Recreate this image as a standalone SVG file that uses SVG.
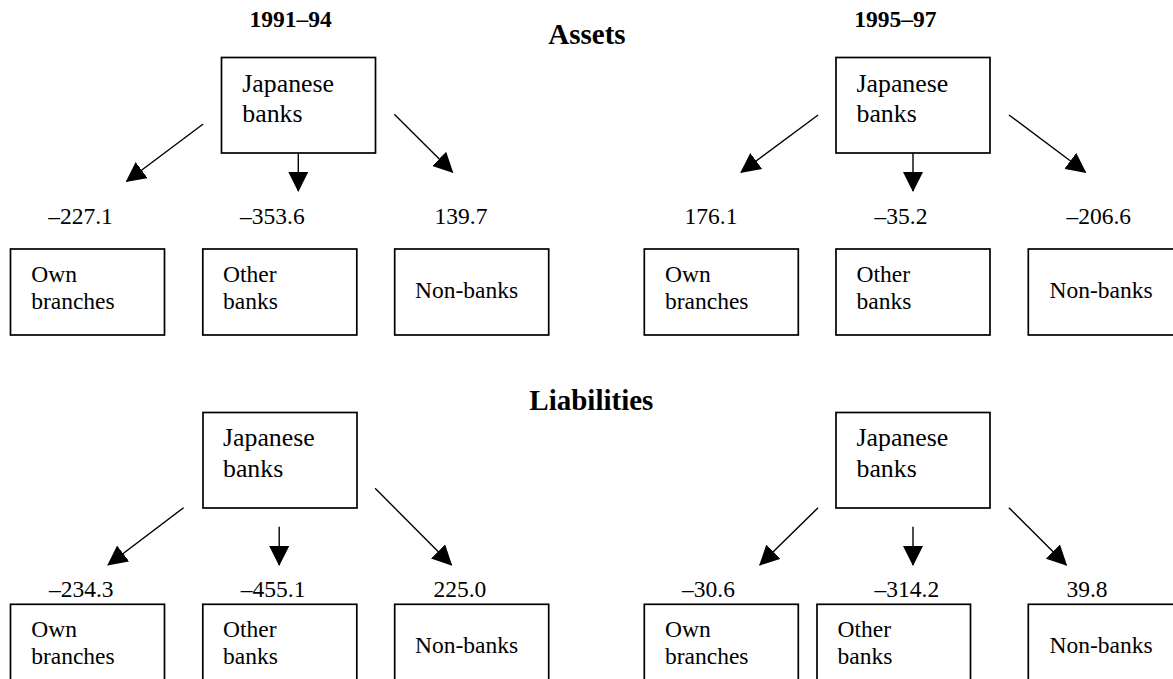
<svg xmlns="http://www.w3.org/2000/svg" width="1173" height="679" viewBox="0 0 1173 679">
<style>
text{font-family:"Liberation Serif",Tinos,"Times New Roman",Times,"DejaVu Serif",serif;font-size:23.5px;fill:#000}
.j{font-size:25.8px}
.h{font-weight:bold;font-size:23.5px}
.t{font-weight:bold;font-size:29px}
rect{fill:#fff;stroke:#000;stroke-width:1.7}
.c line{stroke:#000;stroke-width:1.4;marker-end:url(#ah)}
</style>
<defs>
<marker id="ah" markerUnits="userSpaceOnUse" markerWidth="20" markerHeight="20" refX="19" refY="10" orient="auto" viewBox="0 0 20 20">
<path d="M0,0 L20,10 L0,20 z" fill="#000"/>
</marker>
</defs>
<rect x="0" y="0" width="1173" height="679" style="stroke:none;fill:#fff"/>

<g id="headers">
<text class="h" x="249.4" y="26.7">1991–94</text>
<text class="h" x="854.3" y="26.7">1995–97</text>
<text class="t" x="548.3" y="44.3">Assets</text>
<text class="t" x="529.3" y="410">Liabilities</text>
</g>

<!-- Assets 1991-94 -->
<g id="a1-japanese"><rect x="221.5" y="57.5" width="154" height="95.5"/><text class="j" x="242.3" y="91.5">Japanese</text><text class="j" x="242.3" y="121.7">banks</text></g>
<g id="a1-own"><rect x="10.5" y="249" width="154" height="86"/><text x="31.2" y="281.7">Own</text><text x="31.2" y="309.3">branches</text></g>
<g id="a1-other"><rect x="202.8" y="249" width="154" height="86"/><text x="223" y="281.7">Other</text><text x="223" y="309.3">banks</text></g>
<g id="a1-non"><rect x="394.7" y="249" width="154" height="86"/><text x="415" y="297.7">Non-banks</text></g>

<!-- Assets 1995-97 -->
<g id="a2-japanese"><rect x="836" y="57.5" width="154" height="95.5"/><text class="j" x="856.5" y="91.5">Japanese</text><text class="j" x="856.5" y="121.7">banks</text></g>
<g id="a2-own"><rect x="644.3" y="249" width="154" height="86"/><text x="665" y="281.7">Own</text><text x="665" y="309.3">branches</text></g>
<g id="a2-other"><rect x="836" y="249" width="154" height="86"/><text x="856.5" y="281.7">Other</text><text x="856.5" y="309.3">banks</text></g>
<g id="a2-non"><rect x="1028.3" y="249" width="154" height="86"/><text x="1049.5" y="297.7">Non-banks</text></g>

<!-- Liabilities 1991-94 -->
<g id="l1-japanese"><rect x="203" y="412.5" width="154" height="95.5"/><text class="j" x="223" y="446.3">Japanese</text><text class="j" x="223" y="476.5">banks</text></g>
<g id="l1-own"><rect x="10.5" y="604.3" width="154" height="86"/><text x="31.2" y="636.7">Own</text><text x="31.2" y="664.3">branches</text></g>
<g id="l1-other"><rect x="202.8" y="604.3" width="154" height="86"/><text x="223" y="636.7">Other</text><text x="223" y="664.3">banks</text></g>
<g id="l1-non"><rect x="394.7" y="604.3" width="154" height="86"/><text x="415" y="653">Non-banks</text></g>

<!-- Liabilities 1995-97 -->
<g id="l2-japanese"><rect x="836" y="412.5" width="154" height="95.5"/><text class="j" x="856.5" y="446.3">Japanese</text><text class="j" x="856.5" y="476.5">banks</text></g>
<g id="l2-own"><rect x="644.3" y="604.3" width="154" height="86"/><text x="665" y="636.7">Own</text><text x="665" y="664.3">branches</text></g>
<g id="l2-other"><rect x="817" y="604.3" width="153.5" height="86"/><text x="837.5" y="636.7">Other</text><text x="837.5" y="664.3">banks</text></g>
<g id="l2-non"><rect x="1028.3" y="604.3" width="154" height="86"/><text x="1049.5" y="653">Non-banks</text></g>

<g id="connectors" class="c">
<line x1="203.2" y1="124" x2="126.5" y2="181.5"/>
<line x1="298.3" y1="153.3" x2="298.3" y2="191"/>
<line x1="394.3" y1="114.3" x2="452.6" y2="172.3"/>
<line x1="818.1" y1="115" x2="741" y2="172.3"/>
<line x1="913" y1="153.3" x2="913" y2="191"/>
<line x1="1009" y1="115" x2="1085.5" y2="172.3"/>
<line x1="183.6" y1="507.7" x2="108" y2="565"/>
<line x1="279.2" y1="526.7" x2="279.2" y2="565"/>
<line x1="375.1" y1="488.3" x2="451.5" y2="565"/>
<line x1="818.1" y1="507.7" x2="759.8" y2="565"/>
<line x1="913" y1="526.7" x2="913" y2="565"/>
<line x1="1008.9" y1="507.7" x2="1066.4" y2="565"/>
</g>

<g id="values">
<text x="48.2" y="224">–227.1</text>
<text x="240" y="224">–353.6</text>
<text x="434.5" y="224">139.7</text>
<text x="684.6" y="224">176.1</text>
<text x="874.6" y="224">–35.2</text>
<text x="1066.4" y="224">–206.6</text>
<text x="48.9" y="596.7">–234.3</text>
<text x="240.8" y="596.7">–455.1</text>
<text x="433.4" y="596.7">225.0</text>
<text x="682" y="596.7">–30.6</text>
<text x="874.6" y="596.7">–314.2</text>
<text x="1066.4" y="596.7">39.8</text>
</g>
</svg>
